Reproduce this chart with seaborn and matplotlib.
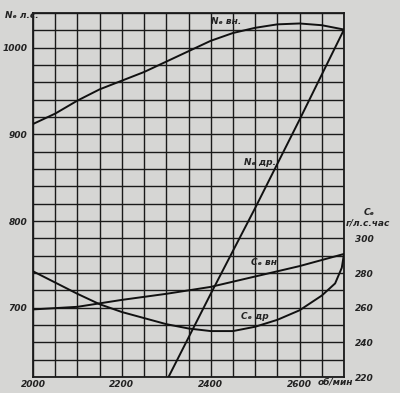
import matplotlib
matplotlib.use("Agg")
import matplotlib.pyplot as plt
import seaborn as sns
import pandas as pd
import numpy as np
from matplotlib.ticker import MultipleLocator

# ---- data ----
rpm_ext = [2000, 2050, 2100, 2150, 2200, 2250, 2300, 2350, 2400, 2450, 2500, 2550, 2600, 2650, 2700]
ne_ext = [912, 924, 939, 952, 962, 972, 984, 996, 1008, 1017, 1023, 1027, 1028, 1026, 1021]

rpm_gov = [2305, 2400, 2500, 2600, 2700]
ne_gov = [620, 716, 815, 917, 1021]

rpm_ce_ext = [2000, 2100, 2200, 2300, 2400, 2500, 2600, 2700]
ce_ext = [259, 260.5, 264.5, 268, 272, 278, 284, 291]

rpm_ce_gov = [2000, 2050, 2100, 2150, 2200, 2250, 2300, 2350, 2400, 2450, 2500, 2550, 2600, 2650, 2680, 2695, 2700]
ce_gov = [281, 274.5, 268, 262, 257.5, 254, 250.5, 248, 246.5, 246.5, 249, 253, 258.5, 267, 274, 283, 291]

x_ticks = [2000, 2200, 2400, 2600]
x_tick_labels = ["2000", "2200", "2400", "2600"]
ne_ticks = [700, 800, 900, 1000]
ce_ticks = [220, 240, 260, 280, 300]

bg = "#d6d6d4"
sns.set_style("white")
plt.rcParams["font.family"] = ["Liberation Sans Narrow", "DejaVu Sans"]

fig = plt.figure(figsize=(4.0, 3.93), dpi=100, facecolor=bg)
ax = fig.add_axes([0.0825, 0.0407, 0.7775, 0.926])
ax.set_facecolor(bg)

df_ext = pd.DataFrame({"rpm": rpm_ext, "ne": ne_ext})
df_gov = pd.DataFrame({"rpm": rpm_gov, "ne": ne_gov})
sns.lineplot(data=df_ext, x="rpm", y="ne", ax=ax, color="#111111", lw=1.4, zorder=5)
sns.lineplot(data=df_gov, x="rpm", y="ne", ax=ax, color="#111111", lw=1.4, zorder=5)

ax.set_xlim(2000, 2700)
ax.set_ylim(620, 1040)
ax.xaxis.set_minor_locator(MultipleLocator(50))
ax.yaxis.set_minor_locator(MultipleLocator(20))
ax.set_xticks(x_ticks)
ax.set_xticklabels(x_tick_labels)
ax.set_yticks(ne_ticks)
ax.grid(which="both", color="#1a1a1a", lw=1.0)
ax.tick_params(which="both", length=0)
ax.tick_params(axis="x", pad=2)
ax.tick_params(axis="y", pad=4)
for lab in ax.get_xticklabels() + ax.get_yticklabels():
    lab.set_fontsize(6.5)
    lab.set_fontstyle("italic")
    lab.set_fontweight("bold")
    lab.set_color("#222222")
for s in ax.spines.values():
    s.set_color("#1a1a1a")
    s.set_linewidth(1.3)
ax.set_xlabel("")
ax.set_ylabel("")

ax2 = ax.twinx()
df_ce_ext = pd.DataFrame({"rpm": rpm_ce_ext, "ce": ce_ext})
df_ce_gov = pd.DataFrame({"rpm": rpm_ce_gov, "ce": ce_gov})
sns.lineplot(data=df_ce_ext, x="rpm", y="ce", ax=ax2, color="#111111", lw=1.4)
sns.lineplot(data=df_ce_gov, x="rpm", y="ce", ax=ax2, color="#111111", lw=1.4)
ax2.set_ylim(220, 430)
ax2.set_xlim(2000, 2700)
ax2.set_yticks(ce_ticks)
ax2.tick_params(length=0, pad=8)
for lab in ax2.get_yticklabels():
    lab.set_fontsize(6.5)
    lab.set_fontstyle("italic")
    lab.set_fontweight("bold")
    lab.set_color("#222222")
ax2.set_ylabel("")
for s in ax2.spines.values():
    s.set_visible(False)

txt = dict(fontsize=6.5, fontstyle="italic", fontweight="bold", color="#222222")
fig.text(5 / 400, 1 - 15 / 393, "Nₑ л.с.", ha="left", va="center", **txt)
fig.text(369 / 400, 1 - 212 / 393, "Cₑ", ha="center", va="center", **txt)
fig.text(368 / 400, 1 - 223 / 393, "г/л.с.час", ha="center", va="center", **txt)
fig.text(335 / 400, 1 - 382 / 393, "об/мин", ha="center", va="center", **txt)

ax.text(2434, 1030, "Nₑ вн.", ha="center", va="center", **txt)
ax.text(2510, 867, "Nₑ др.", ha="center", va="center", **txt)
ax2.text(2521, 286, "Cₑ вн", ha="center", va="center", **txt)
ax2.text(2500, 255, "Cₑ др", ha="center", va="center", **txt)

fig.savefig("out.png", dpi=100, facecolor=bg)
